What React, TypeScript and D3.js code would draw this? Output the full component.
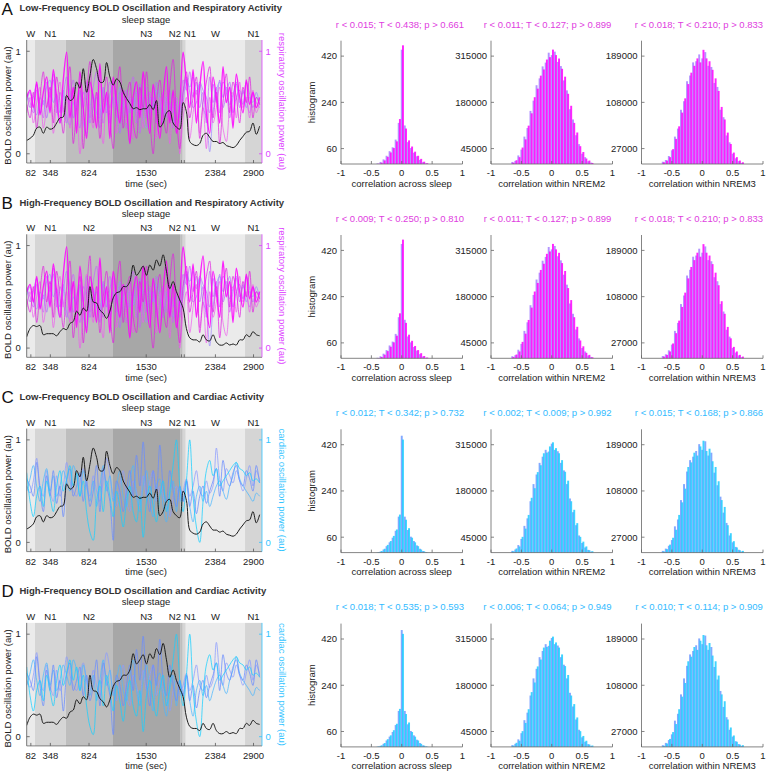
import React from 'react';
import * as d3 from 'd3';

// ---------- time-series data (one sample every SAMPLE_SEC seconds) ----------
const SAMPLE_SEC = 42;
const boldLow = [0.13,0.15,0.18,0.25,0.26,0.20,0.26,0.24,0.25,0.30,
  0.35,0.36,0.57,0.52,0.54,0.70,0.64,0.83,0.60,0.76,
  0.92,0.83,0.70,0.70,0.89,0.75,0.67,0.73,0.70,0.60,
  0.54,0.49,0.44,0.45,0.43,0.44,0.44,0.48,0.43,0.52,
  0.26,0.30,0.40,0.42,0.30,0.26,0.24,0.50,0.41,0.12,
  0.09,0.08,0.10,0.18,0.20,0.16,0.12,0.12,0.10,0.11,
  0.08,0.07,0.06,0.08,0.13,0.17,0.21,0.22,0.30,0.19,
  0.27];
const boldHigh = [0.11,0.19,0.22,0.21,0.22,0.13,0.14,0.14,0.14,0.12,
  0.16,0.19,0.18,0.24,0.26,0.36,0.32,0.39,0.36,0.60,
  0.45,0.44,0.37,0.34,0.29,0.36,0.49,0.54,0.55,0.60,
  0.60,0.65,0.81,0.71,0.75,0.80,0.71,0.81,0.76,0.86,
  0.80,0.91,0.75,0.58,0.65,0.55,0.47,0.39,0.19,0.10,
  0.08,0.08,0.06,0.13,0.08,0.07,0.13,0.06,0.03,0.03,
  0.05,0.03,0.04,0.03,0.08,0.08,0.13,0.11,0.16,0.13,
  0.12];
const resp1 = [0.55,0.62,0.45,0.70,0.38,0.60,0.75,0.40,0.82,0.55,
  0.30,0.72,0.99,0.35,0.65,0.20,0.80,0.45,0.15,0.70,
  0.55,0.25,0.88,0.40,0.60,0.15,0.75,0.50,0.30,0.62,
  0.45,0.10,0.55,0.70,0.35,0.80,0.45,0.20,0.68,0.40,
  0.15,0.55,0.85,0.30,0.62,0.20,0.48,0.99,0.70,0.45,
  0.82,0.30,0.65,0.90,0.40,0.20,0.75,0.55,0.30,0.85,
  0.50,0.65,0.25,0.78,0.55,0.40,0.72,0.48,0.60,0.45,
  0.55];
const resp2 = [0.48,0.35,0.60,0.25,0.55,0.80,0.45,0.65,0.30,0.75,
  0.50,0.20,0.60,0.85,0.10,0.45,0.70,0.05,0.55,0.90,
  0.30,0.60,0.15,0.50,0.75,0.35,0.05,0.60,0.85,0.25,
  0.55,0.70,0.30,0.15,0.65,0.45,0.80,0.35,0.00,0.50,
  0.72,0.40,0.20,0.65,0.92,0.35,0.05,0.60,0.80,0.35,
  0.55,0.75,0.15,0.50,0.70,0.85,0.35,0.60,0.10,0.50,
  0.78,0.40,0.70,0.55,0.30,0.65,0.50,0.75,0.35,0.55,
  0.48];
const resp3 = [0.58,0.50,0.40,0.62,0.50,0.35,0.70,0.55,0.78,0.40,
  0.60,0.45,0.30,0.55,0.72,0.40,0.25,0.60,0.50,0.35,
  0.65,0.80,0.45,0.30,0.55,0.70,0.50,0.35,0.60,0.40,
  0.25,0.58,0.75,0.45,0.20,0.50,0.65,0.40,0.55,0.30,
  0.45,0.60,0.35,0.50,0.25,0.40,0.30,0.72,0.62,0.80,
  0.55,0.70,0.45,0.60,0.30,0.75,0.50,0.65,0.40,0.70,
  0.62,0.35,0.55,0.68,0.45,0.60,0.52,0.40,0.58,0.50,
  0.45];
const resp4 = [0.52,0.60,0.45,0.38,0.55,0.48,0.65,0.72,0.50,0.58,
  0.40,0.62,0.35,0.28,0.50,0.42,0.60,0.30,0.20,0.45,
  0.58,0.40,0.35,0.62,0.48,0.30,0.55,0.45,0.65,0.50,
  0.38,0.55,0.42,0.60,0.48,0.35,0.25,0.55,0.45,0.62,
  0.50,0.38,0.55,0.45,0.30,0.50,0.40,0.60,0.72,0.65,
  0.75,0.58,0.68,0.45,0.35,0.02,0.40,0.62,0.70,0.55,
  0.65,0.48,0.58,0.70,0.50,0.62,0.45,0.55,0.50,0.60,
  0.48];
const resp5 = [0.40,0.55,0.30,0.50,0.65,0.25,0.45,0.60,0.20,0.50,
  0.70,0.40,0.55,0.25,0.65,0.48,0.00,0.40,0.72,0.45,
  0.25,0.60,0.35,0.10,0.55,0.45,0.70,0.20,0.40,0.55,
  0.30,0.62,0.15,0.40,0.58,0.25,0.50,0.60,0.30,0.15,
  0.55,0.40,0.62,0.10,0.45,0.55,0.00,0.35,0.55,0.15,
  0.40,0.62,0.20,0.45,0.05,0.55,0.30,0.45,0.65,0.25,
  0.12,0.45,0.60,0.35,0.70,0.45,0.55,0.35,0.62,0.40,
  0.50];
const resp6 = [0.60,0.45,0.55,0.68,0.40,0.52,0.35,0.60,0.72,0.45,
  0.30,0.55,0.75,0.60,0.35,0.50,0.62,0.45,0.70,0.30,
  0.45,0.55,0.25,0.65,0.40,0.58,0.70,0.45,0.20,0.50,
  0.62,0.40,0.55,0.30,0.68,0.52,0.35,0.60,0.45,0.70,
  0.55,0.30,0.48,0.62,0.40,0.55,0.35,0.50,0.75,0.60,
  0.45,0.50,0.70,0.62,0.55,0.40,0.68,0.50,0.72,0.45,
  0.58,0.70,0.40,0.55,0.62,0.48,0.70,0.58,0.45,0.55,
  0.52];
const card1 = [0.62,0.55,0.45,0.78,0.50,0.30,0.65,0.45,0.70,0.38,
  0.55,0.25,0.60,0.72,0.45,0.55,0.68,0.40,0.60,0.35,
  0.50,0.75,0.30,0.72,0.55,0.40,0.02,0.60,0.50,0.30,
  0.50,0.70,0.45,0.85,0.55,0.98,0.50,0.30,0.70,0.50,
  0.95,0.55,0.40,0.70,0.50,0.35,0.55,0.40,0.60,0.35,
  0.50,0.28,0.45,0.55,0.38,0.50,0.60,0.72,0.45,0.80,
  0.62,0.55,0.68,0.75,0.60,0.55,0.70,0.62,0.50,0.75,
  0.58];
const card2 = [0.68,0.40,0.25,0.45,0.55,0.35,0.60,0.45,0.30,0.55,
  0.70,0.50,0.62,0.75,0.55,0.68,0.45,0.60,0.30,0.10,
  0.02,0.40,0.55,0.30,0.60,0.45,0.25,0.50,0.35,0.15,
  0.40,0.55,0.30,0.20,0.45,0.05,0.40,0.55,0.35,0.20,
  0.45,0.60,0.30,0.50,0.75,1.00,0.55,0.30,0.60,1.00,
  0.45,0.15,0.00,0.40,0.70,0.80,0.65,0.72,0.55,0.60,
  0.65,0.70,0.75,0.78,0.72,0.70,0.65,0.68,0.60,0.62,
  0.58];
const card3 = [0.50,0.62,0.75,0.55,0.40,0.60,0.72,0.50,0.65,0.45,
  0.55,0.70,0.60,0.50,0.75,0.65,0.45,0.70,0.55,0.40,
  0.60,0.35,0.55,0.75,0.50,0.65,0.40,0.55,0.70,0.45,
  0.35,0.60,0.75,0.45,0.30,0.55,0.70,0.40,0.25,0.55,
  0.62,0.35,0.20,0.45,0.60,0.30,0.55,0.40,0.60,0.35,
  0.20,0.45,0.55,0.40,0.50,0.35,0.45,0.55,0.60,0.50,
  0.42,0.55,0.65,0.78,0.62,0.55,0.50,0.45,0.40,0.48,
  0.45];
const card4 = [0.55,0.48,0.60,0.82,0.55,0.45,0.70,0.50,0.40,0.65,
  0.45,0.55,0.78,0.60,0.50,0.45,0.60,0.72,0.55,0.45,
  0.65,0.50,0.40,0.60,0.82,0.65,0.45,0.35,0.55,0.70,
  0.40,0.30,0.60,0.50,0.35,0.65,0.45,0.60,0.70,0.40,
  0.55,0.45,0.35,0.25,0.45,0.55,0.40,0.50,0.62,0.45,
  0.55,0.70,0.50,0.45,0.60,0.48,0.55,0.92,0.62,0.50,
  0.72,0.65,0.58,0.70,0.60,0.50,0.62,0.75,0.55,0.70,
  0.60];

// ---------- sleep stages ----------
const stageNames = ['W', 'N1', 'N2', 'N3', 'N2', 'N1', 'W', 'N1'];
const stageBounds = [0, 105, 492, 1081, 1936, 1970, 2008, 2756, 2970];
const timeTickLabels = ['82', '348', '824', '1530', '', '', '2384', '2900'];

// ---------- histograms ----------
const corrBins = [-0.65,-0.6,-0.55,-0.5,-0.45,-0.4,-0.35,-0.3,-0.25,-0.2,-0.15,-0.1,-0.05,0,
  0.05,0.1,0.15,0.2,0.25,0.3,0.35,0.4,0.45,0.5,0.55,0.6,0.65];
const respAcrossA = [0,0,0,0,0,1,5,14,28,45,62,88,175,462,138,92,68,48,32,20,9,3,0,0,0,0,0];
const respAcrossB = [0,0,0,0,0,2,8,18,32,50,65,95,160,445,150,85,62,44,30,16,7,2,0,0,0,0,0];
const respN2A = [4000,11000,20000,48000,72000,112000,148000,195000,220000,258000,276000,305000,312000,334000,
  318000,308000,278000,255000,205000,170000,120000,92000,52000,35000,16000,10000,3000];
const respN2B = [6000,9000,25000,42000,80000,105000,155000,185000,230000,250000,285000,296000,325000,318000,
  328000,298000,286000,244000,215000,160000,130000,84000,58000,30000,20000,8000,4000];
const respN3A = [3000,6000,12000,26000,44000,66000,90000,115000,140000,160000,172000,185000,178000,200000,
  185000,180000,165000,150000,128000,100000,78000,55000,35000,20000,12000,6000,3000];
const respN3B = [4000,7000,14000,24000,48000,62000,95000,110000,145000,155000,178000,180000,192000,185000,
  196000,172000,170000,142000,135000,95000,82000,50000,38000,18000,10000,5000,2000];
const cardAcrossA = [0,0,0,0,0,1,4,12,25,40,58,85,140,455,140,88,62,45,28,15,6,2,0,0,0,0,0];
const cardAcrossB = [0,0,0,0,0,2,6,15,30,45,65,90,148,440,128,95,58,40,25,12,5,1,0,0,0,0,0];
const cardN2A = [5000,9000,22000,40000,78000,100000,150000,200000,228000,262000,280000,300000,295000,318000,
  300000,296000,262000,240000,200000,158000,118000,80000,50000,28000,15000,8000,3000];
const cardN2B = [4000,12000,18000,46000,70000,110000,160000,188000,235000,255000,290000,292000,310000,322000,
  305000,290000,270000,236000,210000,150000,125000,86000,46000,32000,18000,7000,4000];
const cardN3A = [3000,7000,12000,22000,46000,58000,92000,120000,142000,162000,168000,178000,190000,180000,
  195000,170000,175000,140000,118000,98000,70000,52000,30000,18000,10000,5000,2000];
const cardN3B = [2000,6000,14000,26000,40000,66000,88000,112000,150000,158000,175000,170000,186000,196000,
  178000,182000,160000,150000,125000,92000,80000,48000,34000,20000,9000,4000,3000];

const histYTicks = [[60, 240, 420], [45000, 180000, 315000], [27000, 108000, 189000]];
const histYMax = [480, 360000, 216000];
const histXTicks = [-1, -0.5, 0, 0.5, 1];
const histXLabels = ['correlation across sleep', 'correlation within NREM2', 'correlation within NREM3'];

const panelLetters = ['A', 'B', 'C', 'D'];
const panelTitles = [
  'Low-Frequency BOLD Oscillation and Respiratory Activity',
  'High-Frequency BOLD Oscillation and Respiratory Activity',
  'Low-Frequency BOLD Oscillation and Cardiac Activity',
  'High-Frequency BOLD Oscillation and Cardiac Activity',
];
const statsA = ['r < 0.015; T < 0.438; p > 0.661', 'r < 0.011; T < 0.127; p > 0.899', 'r < 0.018; T < 0.210; p > 0.833'];
const statsB = ['r < 0.009; T < 0.250; p > 0.810', 'r < 0.011; T < 0.127; p > 0.899', 'r < 0.018; T < 0.210; p > 0.833'];
const statsC = ['r < 0.012; T < 0.342; p > 0.732', 'r < 0.002; T < 0.009; p > 0.992', 'r < 0.015; T < 0.168; p > 0.866'];
const statsD = ['r < 0.018; T < 0.535; p > 0.593', 'r < 0.006; T < 0.064; p > 0.949', 'r < 0.010; T < 0.114; p > 0.909'];

// ---------- styling ----------
const FONT = '"Liberation Sans", Arial, Helvetica, sans-serif';
const stageFill: Record<string, string> = { W: '#ebebeb', N1: '#d5d5d5', N2: '#bebebe', N3: '#a7a7a7' };
const families: any = {
  resp: {
    lines: [resp6, resp4, resp3, resp5, resp2, resp1],
    colors: ['#b070ff', '#9f8cff', '#c860ff', '#ee5cee', '#e21ee2', '#ff00ff'],
    widths: [0.85, 0.85, 0.85, 0.85, 0.85, 1.4],
    axisColor: '#dd44ff',
    textColor: '#e040e0',
    label: 'respiratory oscillation power (au)',
    hist: [[respAcrossB, respAcrossA], [respN2B, respN2A], [respN3B, respN3A]],
    histColors: ['#9a70ff', '#ff00ff'],
  },
  card: {
    lines: [card4, card3, card1, card2],
    colors: ['#8c9cff', '#4db8ff', '#6a8cff', '#1ad0ff'],
    widths: [0.9, 0.9, 0.9, 0.9],
    axisColor: '#33c4ff',
    textColor: '#33bbff',
    label: 'cardiac oscillation power (au)',
    hist: [[cardAcrossA, cardAcrossB], [cardN2A, cardN2B], [cardN3A, cardN3B]],
    histColors: ['#5b8cff', '#1ecbff'],
  },
};
const panels = [
  { bold: boldLow, fam: 'resp', stats: statsA },
  { bold: boldHigh, fam: 'resp', stats: statsB },
  { bold: boldLow, fam: 'card', stats: statsC },
  { bold: boldHigh, fam: 'card', stats: statsD },
];

const PANEL_DY = 194.3;
const TS = { left: 26.7, right: 262, top: 40, bottom: 163 };
const H_TOP = 40.7, H_BOT = 164, H_W = 121.5;
const histLefts = [341, 491, 641.5];
const statCenters = [400, 547.5, 699];

export default function App() {
  const x = d3.scaleLinear().domain([0, 2970]).range([TS.left, TS.right]);
  const y = d3.scaleLinear().domain([-0.09, 1.11]).range([TS.bottom, TS.top]);
  const line = d3.line<number>()
    .x((_, i) => x(i * SAMPLE_SEC))
    .y((d) => y(d))
    .curve(d3.curveCatmullRom.alpha(0.5));
  const segs = stageNames.map((s, i) => ({ s, a: stageBounds[i], b: stageBounds[i + 1], c: (stageBounds[i] + stageBounds[i + 1]) / 2 }));

  return (
    <svg width={766} height={774} style={{ position: 'absolute', left: 0, top: 0, background: '#fff' }} fontFamily={FONT}>
      <defs>
        <clipPath id="tsclip"><rect x={TS.left} y={TS.top} width={TS.right - TS.left} height={TS.bottom - TS.top} /></clipPath>
      </defs>
      {panels.map((p, pi) => {
        const fam = families[p.fam];
        return (
          <g key={pi} transform={`translate(0,${pi * PANEL_DY})`}>
            <text x={1.5} y={14.5} fontSize={17} fill="#111">{panelLetters[pi]}</text>
            <text x={19.5} y={11.3} fontSize={9.5} fontWeight="bold" fill="#333">{panelTitles[pi]}</text>
            <text x={146} y={22.5} fontSize={9.5} textAnchor="middle" fill="#222">sleep stage</text>
            {segs.map((g, i) => (
              <rect key={i} x={x(g.a)} y={TS.top} width={x(g.b) - x(g.a)} height={TS.bottom - TS.top} fill={stageFill[g.s]} />
            ))}
            {segs.map((g, i) => {
              let anchor = 'middle', xx = x(g.c);
              if (i === 4) { anchor = 'end'; xx = x(g.c) - 0.5; }
              if (i === 5) { anchor = 'start'; xx = x(g.c) - 0.5; }
              return <text key={i} x={xx} y={37} fontSize={9.5} textAnchor={anchor} fill="#222">{g.s}</text>;
            })}
            <g clipPath="url(#tsclip)">
              {fam.lines.map((arr: number[], i: number) => (
                <path key={i} d={line(arr) || ''} fill="none" stroke={fam.colors[i]} strokeWidth={fam.widths[i]} strokeOpacity={0.85} />
              ))}
              <path d={line(p.bold) || ''} fill="none" stroke="#1a1a1a" strokeWidth={1} />
            </g>
            <line x1={TS.left} x2={TS.left} y1={TS.top} y2={TS.bottom} stroke="#555" strokeWidth={0.8} />
            <line x1={TS.left} x2={TS.right} y1={TS.bottom} y2={TS.bottom} stroke="#666" strokeWidth={0.8} />
            <line x1={TS.right} x2={TS.right} y1={TS.top} y2={TS.bottom} stroke={fam.axisColor} strokeWidth={0.8} />
            {[0, 1].map((v) => (
              <g key={v}>
                <line x1={TS.left} x2={TS.left + 3} y1={y(v)} y2={y(v)} stroke="#555" strokeWidth={0.8} />
                <text x={TS.left - 6} y={y(v)} dy="0.35em" fontSize={9.5} textAnchor="end" fill="#222">{v}</text>
                <line x1={TS.right - 3} x2={TS.right} y1={y(v)} y2={y(v)} stroke={fam.axisColor} strokeWidth={0.8} />
                <text x={TS.right + 3.5} y={y(v)} dy="0.35em" fontSize={9.5} fill={fam.axisColor}>{v}</text>
              </g>
            ))}
            {segs.map((g, i) => (
              <g key={i}>
                <line x1={x(g.c)} x2={x(g.c)} y1={TS.bottom} y2={TS.bottom - 3} stroke="#555" strokeWidth={0.8} />
                <text x={x(g.c)} y={176} fontSize={9.5} textAnchor="middle" fill="#222">{timeTickLabels[i]}</text>
              </g>
            ))}
            <text x={146} y={186.5} fontSize={9.5} textAnchor="middle" fill="#222">time (sec)</text>
            <text transform={`translate(11,${(TS.top + TS.bottom) / 2 + 4}) rotate(-90)`} fontSize={9.5} textAnchor="middle" fill="#222">BOLD oscillation power (au)</text>
            <text transform={`translate(279,${(TS.top + TS.bottom) / 2}) rotate(90)`} fontSize={9.5} textAnchor="middle" fill={fam.axisColor}>{fam.label}</text>

            {[0, 1, 2].map((h) => {
              const hx = d3.scaleLinear().domain([-1, 1]).range([histLefts[h], histLefts[h] + H_W]);
              const hy = d3.scaleLinear().domain([0, histYMax[h]]).range([H_BOT, H_TOP]);
              const series = fam.hist[h];
              const offs = [-0.016, 0.004];
              const bw = 0.032;
              return (
                <g key={h}>
                  <text x={statCenters[h]} y={27.5} fontSize={9.5} textAnchor="middle" fill={fam.textColor}>{p.stats[h]}</text>
                  {series.map((vals: number[], si: number) => (
                    <g key={si} fill={fam.histColors[si]} fillOpacity={si === 0 ? 0.75 : 0.85}>
                      {vals.map((v, bi) => v > 0 ? (
                        <rect key={bi} x={hx(corrBins[bi] + offs[si])} width={hx(bw) - hx(0)} y={hy(v)} height={H_BOT - hy(v)} />
                      ) : null)}
                    </g>
                  ))}
                  <line x1={hx(-1)} x2={hx(-1)} y1={H_TOP} y2={H_BOT} stroke="#666" strokeWidth={0.8} />
                  <line x1={hx(-1)} x2={hx(1)} y1={H_BOT} y2={H_BOT} stroke="#666" strokeWidth={0.8} />
                  {histYTicks[h].map((t) => (
                    <g key={t}>
                      <line x1={hx(-1)} x2={hx(-1) + 3} y1={hy(t)} y2={hy(t)} stroke="#666" strokeWidth={0.8} />
                      <text x={hx(-1) - 4} y={hy(t)} dy="0.35em" fontSize={9.5} textAnchor="end" fill="#222">{t}</text>
                    </g>
                  ))}
                  {histXTicks.map((t) => (
                    <g key={t}>
                      <line x1={hx(t)} x2={hx(t)} y1={H_BOT} y2={H_BOT - 3} stroke="#666" strokeWidth={0.8} />
                      <text x={hx(t)} y={176} fontSize={9.5} textAnchor="middle" fill="#222">{t}</text>
                    </g>
                  ))}
                  <text x={hx(0)} y={186.5} fontSize={9.5} textAnchor="middle" fill="#222">{histXLabels[h]}</text>
                  {h === 0 ? (
                    <text transform={`translate(315,${(H_TOP + H_BOT) / 2}) rotate(-90)`} fontSize={9.5} textAnchor="middle" fill="#222">histogram</text>
                  ) : null}
                </g>
              );
            })}
          </g>
        );
      })}
    </svg>
  );
}
